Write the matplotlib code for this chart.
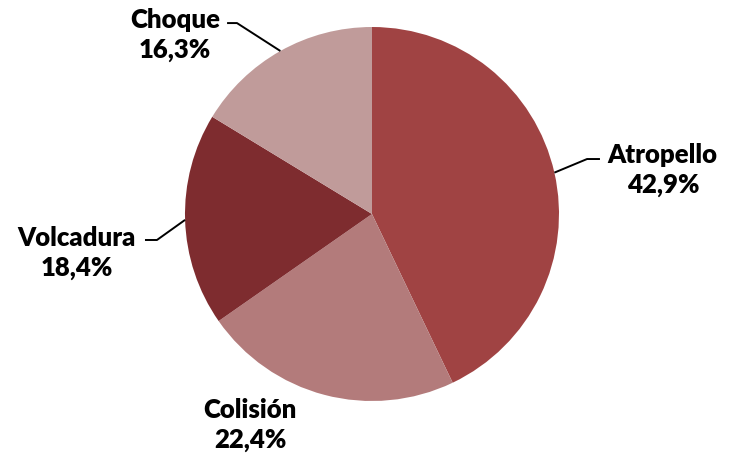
import matplotlib.pyplot as plt
import numpy as np

categorias = ["Atropello", "Colisión", "Volcadura", "Choque"]
porcentajes = [42.9, 22.4, 18.4, 16.3]
colores = ["#A04343", "#B37B7B", "#7E2C2F", "#C09B9A"]

# posiciones de etiquetas (coordenadas de datos, radio = 1)
pos_texto = {"Atropello": (1.555, 0.235), "Colisión": (-0.652, -1.128),
             "Volcadura": (-1.578, -0.209), "Choque": (-1.053, 0.957)}
# codo y extremo de la línea guía
guias = {"Atropello": ((1.150, 0.294), (1.219, 0.294)),
         "Volcadura": ((-1.150, -0.139), (-1.214, -0.139)),
         "Choque": ((-0.722, 1.021), (-0.775, 1.021))}

W, H = 730, 455
cx, cy, r = 372, 214, 187
fig = plt.figure(figsize=(W / 100, H / 100), dpi=100)
fig.patch.set_facecolor("white")
ax = fig.add_axes([(cx - r) / W, (H - cy - r) / H, 2 * r / W, 2 * r / H])

wedges, _ = ax.pie(porcentajes, colors=colores, startangle=90, counterclock=False,
                   radius=1, wedgeprops=dict(linewidth=0))
ax.set_xlim(-1, 1)
ax.set_ylim(-1, 1)
ax.axis("off")

for w, cat, p in zip(wedges, categorias, porcentajes):
    tx, ty = pos_texto[cat]
    ax.text(tx, ty, f"{cat}\n{p:.1f}%".replace(".", ","), ha="center", va="center",
            fontsize=18.5, fontweight="heavy", family="Lato", linespacing=1.25,
            color="black")
    if cat in guias:
        ang = np.deg2rad((w.theta1 + w.theta2) / 2)
        (kx, ky), (ex, ey) = guias[cat]
        ax.plot([np.cos(ang), kx, ex], [np.sin(ang), ky, ey], color="black",
                lw=1.4, clip_on=False, solid_capstyle="butt")

fig.savefig("out.png", dpi=100)
